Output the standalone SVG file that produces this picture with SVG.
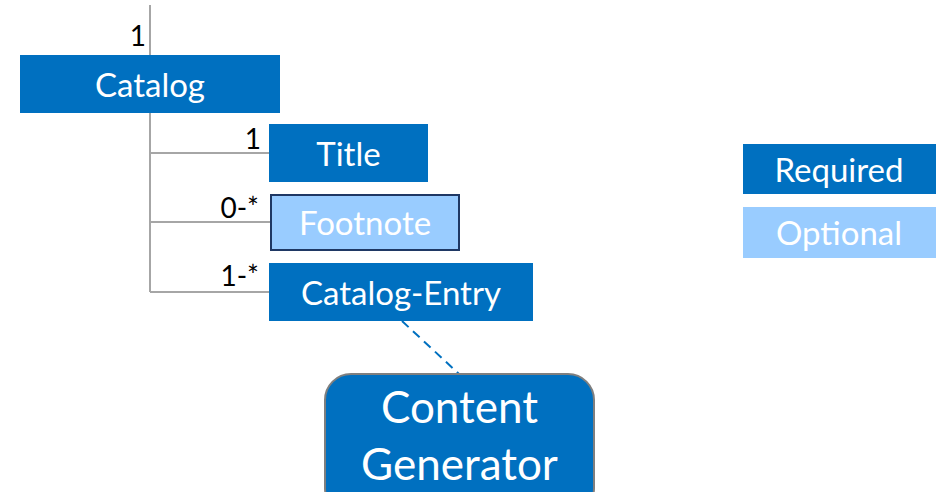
<svg xmlns="http://www.w3.org/2000/svg" width="936" height="492" viewBox="0 0 936 492">
<style>
.req{fill:#0070C0;}
.opt{fill:#99CCFF;}
.t{font-family:Lato,"Liberation Sans",sans-serif;fill:#fff;text-anchor:middle;}
.m{font-family:Lato,"Liberation Sans",sans-serif;fill:#000;font-size:28px;text-anchor:end;}
.ln{stroke:#A6A6A6;stroke-width:2;fill:none;}
</style>
<rect width="936" height="492" fill="#fff"/>
<g id="connectors">
<path class="ln" d="M150 5V55M150 113V292M150 153H269M150 222H270M150 292H269"/>
<line x1="402" y1="321" x2="459" y2="374" stroke="#0070C0" stroke-width="2" stroke-dasharray="9,6"/>
<text class="m" x="146" y="46">1</text>
<text class="m" x="261" y="149">1</text>
<text class="m" x="259" y="218">0-*</text>
<text class="m" x="259" y="286">1-*</text>
</g>
<g id="catalog"><rect class="req" x="20" y="55" width="260" height="58"/><text class="t" x="150" y="97" font-size="33">Catalog</text></g>
<g id="title"><rect class="req" x="269" y="124" width="159" height="58"/><text class="t" x="348.5" y="166" font-size="33">Title</text></g>
<g id="footnote"><rect class="opt" x="271" y="195" width="188" height="55" stroke="#1F3864" stroke-width="2"/><text class="t" x="365" y="235" font-size="33">Footnote</text></g>
<g id="catalog-entry"><rect class="req" x="269" y="263" width="264" height="58"/><text class="t" x="401" y="305" font-size="33">Catalog-Entry</text></g>
<g id="content-generator"><rect class="req" x="325" y="374" width="269" height="140" rx="26" stroke="#7F7F7F" stroke-width="2"/><text class="t" x="459.5" y="423" font-size="44">Content</text><text class="t" x="459.5" y="480" font-size="44">Generator</text></g>
<g id="legend-required"><rect class="req" x="743" y="144" width="193" height="50"/><text class="t" x="839" y="182" font-size="33">Required</text></g>
<g id="legend-optional"><rect class="opt" x="743" y="207" width="193" height="51"/><text class="t" x="839" y="245" font-size="33">Optional</text></g>
</svg>
